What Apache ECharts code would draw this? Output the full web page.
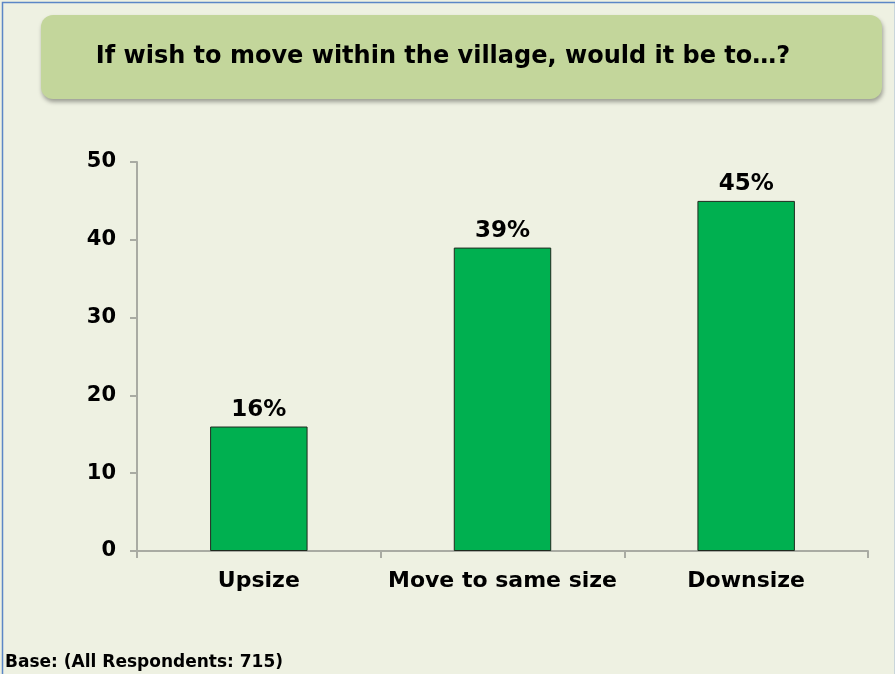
<!DOCTYPE html>
<html>
<head>
<meta charset="utf-8">
<script src="https://cdn.jsdelivr.net/npm/echarts@6/dist/echarts.min.js"></script>
<style>
html,body{margin:0;padding:0;background:#eef1e2;}
#chart{width:895px;height:674px;}
</style>
</head>
<body>
<div id="chart"></div>
<script>
var titleText = 'If wish to move within the village, would it be to\u2026?';
var categories = ['Upsize', 'Move to same size', 'Downsize'];
var values = [16, 39, 45];
var yTicks = [0, 10, 20, 30, 40, 50];
var baseNote = 'Base: (All Respondents: 715)';

var FONT = '"DejaVu Sans", Verdana, sans-serif';
var chart = echarts.init(document.getElementById('chart'), null, {renderer: 'canvas'});
chart.setOption({
  backgroundColor: '#eef1e2',
  animation: false,
  graphic: [
    {type: 'rect', left: 0, top: 0, shape: {x: 0.5, y: 0.5, width: 893, height: 680}, style: {fill: 'none', stroke: '#5b87c6', lineWidth: 1.5}, z: 10},
    {type: 'rect', shape: {x: 41, y: 15, width: 841, height: 84, r: 12},
     style: {fill: '#c3d69b', shadowBlur: 4, shadowOffsetX: 1, shadowOffsetY: 3, shadowColor: 'rgba(0,0,0,0.35)'}, z: 5},
    {type: 'text', x: 443, y: 57, style: {text: titleText, font: 'bold 24px ' + FONT, fill: '#000', textAlign: 'center', textVerticalAlign: 'middle'}, z: 6},
    {type: 'text', x: 5, y: 663, style: {text: baseNote, font: 'bold 17px ' + FONT, fill: '#000', textAlign: 'left', textVerticalAlign: 'middle'}, z: 6}
  ],
  grid: {left: 137, right: 27, top: 162, bottom: 123, containLabel: false},
  xAxis: {
    type: 'category',
    data: categories,
    axisLine: {show: true, lineStyle: {color: '#a9aba3', width: 2}},
    axisTick: {show: true, interval: 0, length: 7, alignWithLabel: false, lineStyle: {color: '#a9aba3', width: 2}},
    axisLabel: {interval: 0, margin: 19, color: '#000', fontFamily: FONT, fontWeight: 'bold', fontSize: 22}
  },
  yAxis: {
    type: 'value',
    min: yTicks[0], max: yTicks[yTicks.length - 1], interval: 10,
    axisLine: {show: true, lineStyle: {color: '#a9aba3', width: 2}},
    axisTick: {show: true, length: 7, lineStyle: {color: '#a9aba3', width: 2}},
    splitLine: {show: false},
    axisLabel: {margin: 21, color: '#000', fontFamily: FONT, fontWeight: 'bold', fontSize: 21}
  },
  series: [{
    type: 'bar',
    data: values,
    barWidth: '40%',
    itemStyle: {color: '#00b050', borderColor: '#1f2a1f', borderWidth: 1},
    label: {show: true, position: 'top', distance: 5, formatter: '{c}%', color: '#000', fontFamily: FONT, fontWeight: 'bold', fontSize: 23}
  }]
});
</script>
</body>
</html>
